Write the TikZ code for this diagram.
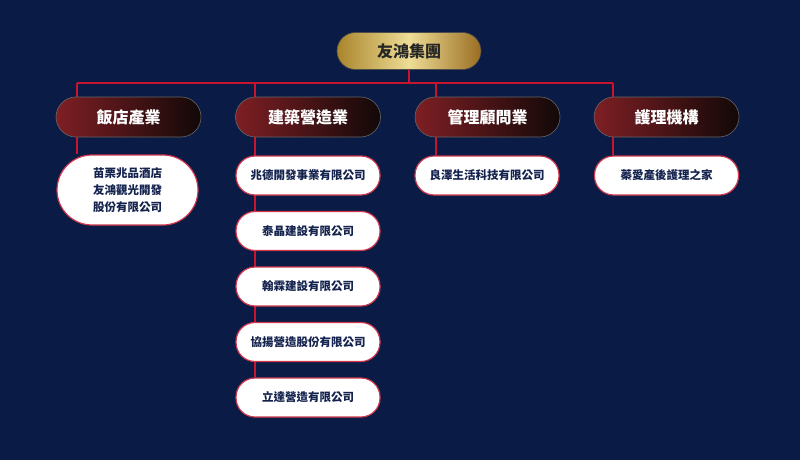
\documentclass[tikz,border=0pt]{standalone}
\usepackage{fontspec}
\newfontfamily\cjk{Noto Sans CJK TC}
\usetikzlibrary{backgrounds}
\definecolor{bgnavy}{HTML}{0A1B46}
\definecolor{linered}{HTML}{C8142C}
\definecolor{goldL}{HTML}{A9852C}
\definecolor{goldM}{HTML}{EEDD96}
\definecolor{goldR}{HTML}{9A6E22}
\definecolor{catL}{HTML}{7E1F24}
\definecolor{catR}{HTML}{120808}
\definecolor{txtnavy}{HTML}{14224E}
\tikzset{
  topbox/.style={draw=black!70, line width=0.6pt, rounded corners=18.5pt,
    left color=goldL, right color=goldR, middle color=goldM,
    minimum width=144pt, minimum height=37pt, inner sep=0pt,
    font=\cjk\bfseries\fontsize{16}{18}\selectfont, text=black!85},
  catbox/.style={draw=black!60, line width=0.6pt, rounded corners=20pt,
    left color=catL, right color=catR,
    minimum width=145pt, minimum height=40pt, inner sep=0pt,
    font=\cjk\bfseries\fontsize{16}{18}\selectfont, text=white},
  subbox/.style={draw=linered!85!white, line width=1.2pt, fill=white, rounded corners=19pt,
    minimum width=144pt, minimum height=39pt, inner sep=0pt, align=center,
    font=\cjk\bfseries\fontsize{11.5}{17}\selectfont, text=txtnavy},
  conn/.style={draw=linered, line width=1.6pt}
}
\begin{document}
\begin{tikzpicture}[x=1pt,y=-1pt]
\useasboundingbox (0,0) rectangle (800,460);
% top
\node[topbox] (top) at (409,51) {友鴻集團};
% categories
\node[catbox] (c1) at (128.5,117) {飯店產業};
\node[catbox] (c2) at (308,117) {建築營造業};
\node[catbox] (c3) at (487.5,117) {管理顧問業};
\node[catbox] (c4) at (666.5,117) {護理機構};
% children
\node[subbox, minimum width=141pt, minimum height=70pt, rounded corners=35pt] (h1) at (127.5,190) {苗栗兆品酒店\\友鴻觀光開發\\股份有限公司};
\node[subbox] (b1) at (308,175.5) {兆德開發事業有限公司};
\node[subbox] (b2) at (308,231) {泰晶建設有限公司};
\node[subbox] (b3) at (308,286.5) {翰霖建設有限公司};
\node[subbox] (b4) at (308,342) {協揚營造股份有限公司};
\node[subbox] (b5) at (308,397.5) {立達營造有限公司};
\node[subbox] (m1) at (487,175.5) {良澤生活科技有限公司};
\node[subbox] (n1) at (666.5,175.5) {蓁愛產後護理之家};
% coordinates
\coordinate (bar) at (0,83);
\coordinate (d1) at ([xshift=21pt]c1.north west);
\coordinate (d2) at ([xshift=20pt]c2.north west);
\coordinate (d3) at ([xshift=21pt]c3.north west);
\coordinate (d4) at ([xshift=19pt]c4.north west);
\begin{scope}[on background layer]
\fill[bgnavy] (0,0) rectangle (800,460);
\draw[conn] (top.south) -- (top.south |- bar);
\draw[conn] (d1 |- bar) -- (d4 |- bar);
\draw[conn] (d1 |- bar) -- (d1);
\draw[conn] (d2 |- bar) -- (d2);
\draw[conn] (d3 |- bar) -- (d3);
\draw[conn] (d4 |- bar) -- (d4);
\draw[conn] (d1 |- c1.south) -- (d1 |- h1.north);
\draw[conn] (d2 |- c2.south) -- (d2 |- b5.north);
\draw[conn] (d3 |- c3.south) -- (d3 |- m1.north);
\draw[conn] (d4 |- c4.south) -- (d4 |- n1.north);
\end{scope}
\end{tikzpicture}
\end{document}
